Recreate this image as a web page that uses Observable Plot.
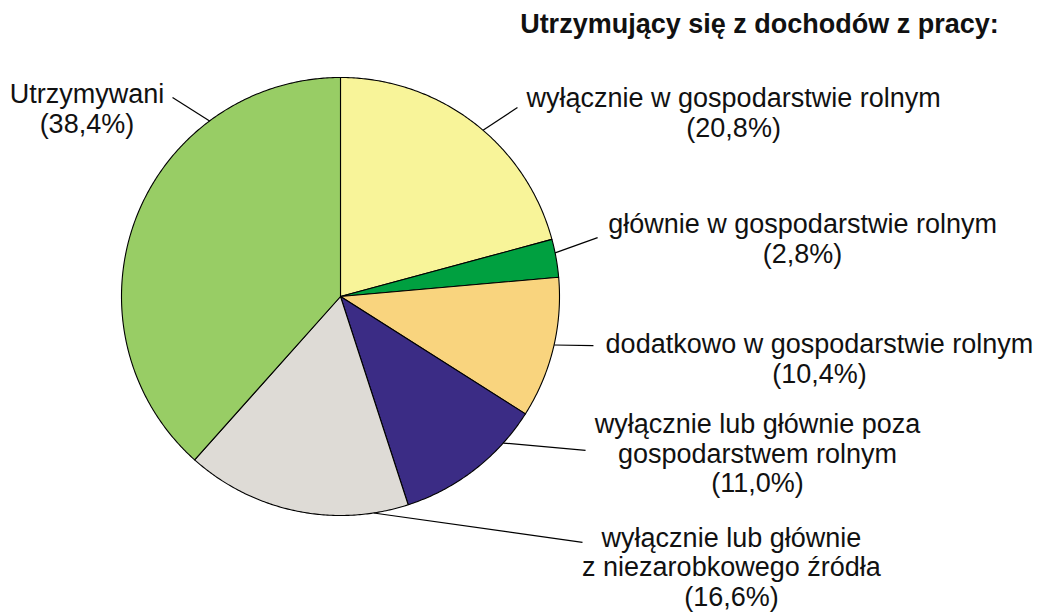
<!DOCTYPE html>
<html><head><meta charset="utf-8">
<script src="https://cdn.jsdelivr.net/npm/d3@7"></script>
<script src="https://cdn.jsdelivr.net/npm/@observablehq/plot@0.6"></script>
<style>html,body{margin:0;padding:0;background:#fff}</style>
</head><body><div id="chart"></div>
<script>
// ---- data ----
const title = "Utrzymujący się z dochodów z pracy:";
const categories = [
  "wyłącznie w gospodarstwie rolnym",
  "głównie w gospodarstwie rolnym",
  "dodatkowo w gospodarstwie rolnym",
  "wyłącznie lub głównie poza gospodarstwem rolnym",
  "wyłącznie lub głównie z niezarobkowego źródła",
  "Utrzymywani"
];
const shares = [20.8, 2.8, 10.4, 11.0, 16.6, 38.4];
const labelLines = [
  ["wyłącznie w gospodarstwie rolnym"],
  ["głównie w gospodarstwie rolnym"],
  ["dodatkowo w gospodarstwie rolnym"],
  ["wyłącznie lub głównie poza", "gospodarstwem rolnym"],
  ["wyłącznie lub głównie", "z niezarobkowego źródła"],
  ["Utrzymywani"]
];
const sliceColors = ["#f8f499", "#00a040", "#f9d47e", "#3b2c85", "#dedbd6", "#98cd65"];

// ---- layout (pie-radius units, centre at 0,0) ----
const W = 1038, H = 613, CX = 340, CY = 296, R = 219;
const leaderEdgeDeg = [40.6, 78.5, 102.8, 132.0, 171.3, 323.3];
const leaderEnd = [[0.808, 0.863], [1.174, 0.269], [1.155, -0.224], [1.119, -0.703], [1.105, -1.123], [-0.767, 0.909]];
const labelPos = [[1.795, 0.960], [2.110, 0.384], [2.187, -0.163], [1.904, -0.527], [1.785, -1.046], [-1.158, 0.979]];
const titlePos = [1.913, 1.289];

const fmt = v => v.toFixed(1).replace(".", ",");
const arcs = d3.pie().sort(null).value(d => d)(shares);

const slicePts = [];
arcs.forEach((a, i) => {
  const cat = categories[i];
  const n = Math.max(2, Math.ceil((a.endAngle - a.startAngle) / (Math.PI / 360)));
  slicePts.push({cat, x: 0, y: 0});
  for (let k = 0; k <= n; k++) {
    const t = a.startAngle + (a.endAngle - a.startAngle) * k / n;
    slicePts.push({cat, x: Math.sin(t), y: Math.cos(t)});
  }
  slicePts.push({cat, x: 0, y: 0});
});

const leaders = categories.map((c, i) => {
  const t = leaderEdgeDeg[i] * Math.PI / 180;
  return {cat: c, x1: Math.sin(t), y1: Math.cos(t), x2: leaderEnd[i][0], y2: leaderEnd[i][1]};
});
const labels = categories.map((c, i) => ({
  cat: c, x: labelPos[i][0], y: labelPos[i][1],
  text: labelLines[i].join("\n") + "\n(" + fmt(shares[i]) + "%)"
}));

const chart = Plot.plot({
  width: W, height: H,
  margin: 0,
  x: {domain: [-CX / R, (W - CX) / R], range: [0, W], axis: null},
  y: {domain: [-(H - CY) / R, CY / R], range: [H, 0], axis: null},
  color: {domain: categories, range: sliceColors},
  style: {fontFamily: "'Liberation Sans', Arial, sans-serif", background: "#fff"},
  marks: [
    Plot.line(slicePts, {x: "x", y: "y", z: "cat", fill: "cat", stroke: "#000", strokeWidth: 1.1, strokeLinejoin: "round"}),
    Plot.link(leaders, {x1: "x1", y1: "y1", x2: "x2", y2: "y2", stroke: "#000", strokeWidth: 1.2}),
    Plot.text(labels, {x: "x", y: "y", text: "text", textAnchor: "middle", lineAnchor: "top", lineHeight: 1.1, fontSize: 27, fill: "#111"}),
    Plot.text([title], {x: () => titlePos[0], y: () => titlePos[1], text: d => d, textAnchor: "middle", lineAnchor: "top", fontSize: 27, fontWeight: "bold", fill: "#111"})
  ]
});
document.getElementById("chart").appendChild(chart);
</script>
</body></html>
